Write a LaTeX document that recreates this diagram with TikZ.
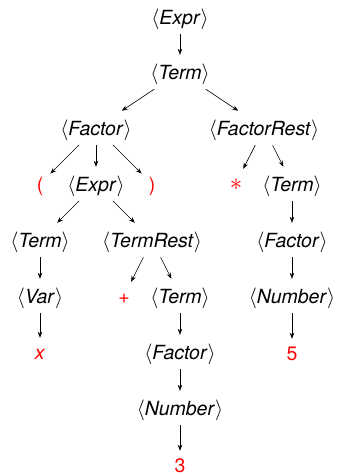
\documentclass[tikz,border=0pt]{standalone}
\usepackage{fontspec}
\setmainfont{TeX Gyre Heros}
\usetikzlibrary{arrows.meta}
\newcommand{\nt}[1]{$\langle$\textit{#1}$\rangle$}
\begin{document}
\begin{tikzpicture}[x=1pt,y=-1pt,
  nt/.style={text height=14pt,text depth=0pt,inner ysep=10pt,inner xsep=1pt,font=\fontsize{19.5}{22}\selectfont},
  tm/.style={text=red,text height=14pt,text depth=0pt,inner ysep=7pt,inner xsep=7pt,font=\fontsize{19.5}{22}\selectfont},
  arr/.style={-{Stealth[length=6pt,width=4.5pt]},line width=0.65pt}]
\useasboundingbox (0,0) rectangle (337,475);
% level 0
\node[nt] (expr) at (180,17) {\nt{Expr}};
% level 1
\node[nt] (term) at (180,72) {\nt{Term}};
% level 2
\node[nt] (factor) at (96,128) {\nt{Factor}};
\node[nt] (frest) at (264,128) {\nt{FactorRest}};
% level 3
\node[tm] (lp) at (40,184) {(};
\node[nt] (expr2) at (96,184) {\nt{Expr}};
\node[tm] (rp) at (152,184) {)};
\node[tm,font=\fontsize{26}{28}\selectfont] (star) at (236,183) {$*$};
\node[nt] (term2) at (292,184) {\nt{Term}};
% level 4
\node[nt] (term3) at (40,240) {\nt{Term}};
\node[nt] (trest) at (152,240) {\nt{TermRest}};
\node[nt] (factor2) at (292,240) {\nt{Factor}};
% level 5
\node[nt] (var) at (40,296) {\nt{Var}};
\node[tm] (plus) at (124,296) {+};
\node[nt] (term4) at (180,296) {\nt{Term}};
\node[nt] (number) at (292,296) {\nt{Number}};
% level 6
\node[tm] (x) at (40,352) {\textit{x}};
\node[nt] (factor3) at (180,352) {\nt{Factor}};
\node[tm] (five) at (292,353) {5};
% level 7
\node[nt] (number2) at (180,408) {\nt{Number}};
% level 8
\node[tm] (three) at (180,465) {3};
% edges
\draw[arr] (expr) -- (term);
\draw[arr] (term) -- (factor);
\draw[arr] (term) -- (frest);
\draw[arr] (factor) -- (lp);
\draw[arr] (factor) -- (expr2);
\draw[arr] (factor) -- (rp);
\draw[arr] (frest) -- (star);
\draw[arr] (frest) -- (term2);
\draw[arr] (expr2) -- (term3);
\draw[arr] (expr2) -- (trest);
\draw[arr] (term2) -- (factor2);
\draw[arr] (term3) -- (var);
\draw[arr] (trest) -- (plus);
\draw[arr] (trest) -- (term4);
\draw[arr] (factor2) -- (number);
\draw[arr] (var) -- (x);
\draw[arr] (term4) -- (factor3);
\draw[arr] (number) -- (five);
\draw[arr] (factor3) -- (number2);
\draw[arr] (number2) -- (three);
\end{tikzpicture}
\end{document}
